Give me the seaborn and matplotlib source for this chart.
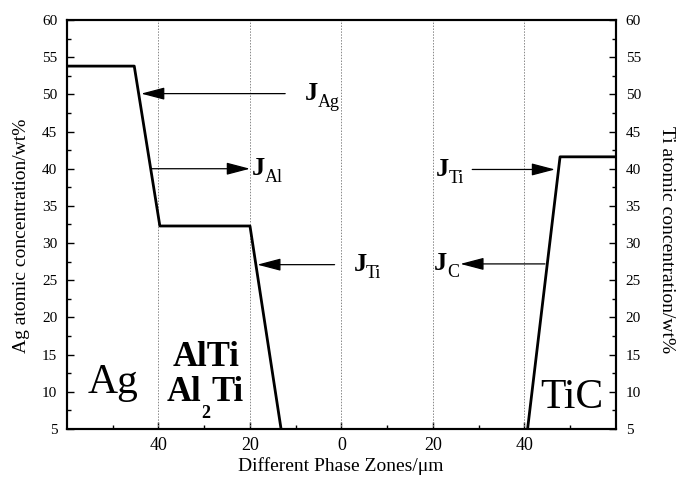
import matplotlib
matplotlib.use("Agg")
import matplotlib.pyplot as plt
import seaborn as sns
import pandas as pd

# ---- data ----
ag_x = [-60, -45.3, -39.7, -20.0, -13.2]
ag_y = [53.8, 53.8, 32.3, 32.3, 5.0]
ti_x = [40.7, 47.8, 60]
ti_y = [5.0, 41.6, 41.6]
zone_lines = [-40, -20, 0, 20, 40]
x_ticks = [-40, -20, 0, 20, 40]
x_ticklabels = ["40", "20", "0", "20", "40"]
y_ticks = [5, 10, 15, 20, 25, 30, 35, 40, 45, 50, 55, 60]

# arrows: (subscript, label_x, tail_x, head_x, y)
arrows = [
    ("Ag", -7.9, -12.3, -43.8, 50.1),
    ("Al", -19.5, -41.5, -20.0, 40.0),
    ("Ti", 2.6, -1.5, -18.4, 27.1),
    ("Ti", 20.7, 28.6, 46.7, 39.9),
    ("C", 20.3, 44.5, 26.0, 27.2),
]

sns.set_style("ticks")
plt.rcParams["font.family"] = ["Liberation Serif", "DejaVu Serif"]
for k in ["text.color", "axes.labelcolor", "xtick.color", "ytick.color", "axes.edgecolor"]:
    plt.rcParams[k] = "black"

fig = plt.figure(figsize=(6.79, 4.83), dpi=100)
ax = fig.add_axes([0.0987, 0.1118, 0.8083, 0.8468])

for xv in zone_lines:
    ax.axvline(xv, color="#888888", lw=0.7, ls=(0, (1.5, 1.5)), zorder=1)

df_ag = pd.DataFrame({"x": ag_x, "y": ag_y})
df_ti = pd.DataFrame({"x": ti_x, "y": ti_y})
sns.lineplot(data=df_ag, x="x", y="y", sort=False, color="black", lw=2, ax=ax, zorder=3)
sns.lineplot(data=df_ti, x="x", y="y", sort=False, color="black", lw=2, ax=ax, zorder=3)

ax.set_xlim(-60, 60)
ax.set_ylim(5, 60)
ax.set_xticks(x_ticks)
ax.set_xticklabels(x_ticklabels)
ax.set_xticks(range(-50, 60, 20), minor=True)
ax.set_yticks(y_ticks)
ax.set_yticks([v + 2.5 for v in y_ticks[:-1]], minor=True)
ax.tick_params(axis="both", which="major", direction="in", length=5, width=1)
ax.tick_params(axis="both", which="minor", direction="in", length=3, width=1)
ax.tick_params(axis="x", labelsize=13, pad=6)
ax.tick_params(axis="y", labelsize=11, pad=7)
for s in ax.spines.values():
    s.set_linewidth(1.5)
ax.set_xlabel("")
ax.set_ylabel("")

ax2 = ax.twinx()
ax2.set_ylim(5, 60)
ax2.set_yticks(y_ticks)
ax2.set_yticks([v + 2.5 for v in y_ticks[:-1]], minor=True)
ax2.tick_params(axis="y", which="major", direction="in", length=5, width=1, labelsize=11, pad=7)
ax2.tick_params(axis="y", which="minor", direction="in", length=3, width=1)
for s in ax2.spines.values():
    s.set_linewidth(1.5)

fig.text(341 / 679, 1 - 466 / 483, "Different Phase Zones/μm", fontsize=14,
         ha="center", va="center")
fig.text(22 / 679, 1 - 236 / 483, "Ag atomic concentration/wt%", fontsize=14,
         rotation=90, ha="center", va="center")
fig.text(667 / 679, 1 - 240 / 483, "Ti atomic concentration/wt%", fontsize=14,
         rotation=270, ha="center", va="center")

for sub, lx, tx, hx, y in arrows:
    ax.annotate("", xy=(hx, y), xytext=(tx, y),
                arrowprops=dict(arrowstyle="-|>,head_length=1.45,head_width=0.38",
                                color="black", lw=0.9, shrinkA=0, shrinkB=0),
                zorder=4)
    jt = ax.annotate("J", xy=(lx, y), xytext=(0, -4.7), textcoords="offset points",
                     fontsize=19, fontweight="bold", ha="left", va="baseline")
    ax.annotate(sub, xy=(1, 0), xycoords=jt, xytext=(-0.5, -1.2),
                textcoords="offset points", fontsize=13, ha="left", va="baseline")

ax.text(-55.6, 9.83, "Ag", fontsize=30, ha="left", va="baseline")
ax.text(-29.5, 13.5, "AlTi", fontsize=25, fontweight="bold", ha="center", va="baseline")
ax.text(-30.7, 8.7, "Al", fontsize=25, fontweight="bold", ha="right", va="baseline")
ax.text(-30.6, 6.5, "2", fontsize=13, fontweight="bold", ha="left", va="baseline")
ax.text(-28.4, 8.7, "Ti", fontsize=25, fontweight="bold", ha="left", va="baseline")
ax.text(57.2, 7.85, "TiC", fontsize=30, ha="right", va="baseline")

fig.savefig("out.png", dpi=100)
